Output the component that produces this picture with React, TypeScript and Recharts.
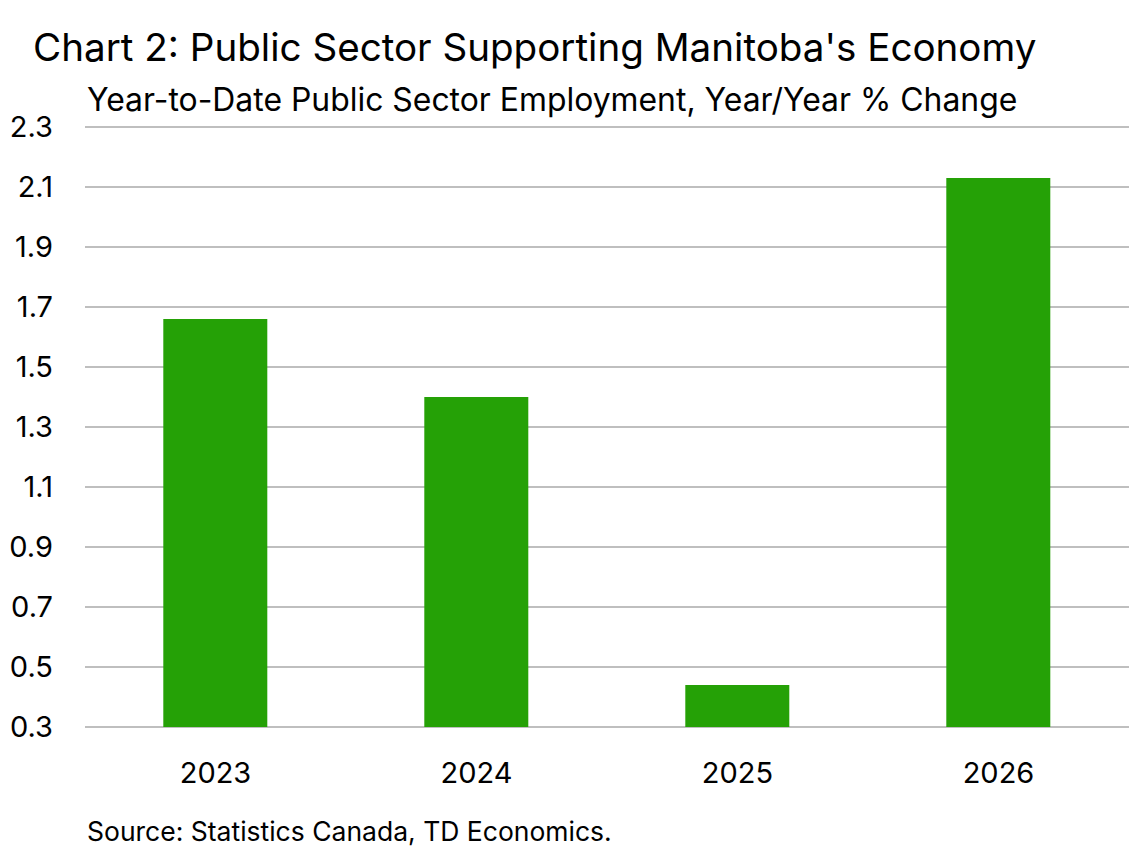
import React from "react";
import { BarChart, Bar, XAxis, YAxis, CartesianGrid } from "recharts";

const years = ["2023", "2024", "2025", "2026"];
const growth = [1.66, 1.4, 0.44, 2.13];
const yTicks = [0.3, 0.5, 0.7, 0.9, 1.1, 1.3, 1.5, 1.7, 1.9, 2.1, 2.3];

const data = years.map((year, i) => ({ year, value: growth[i] }));

const font = "Inter, 'Noto Sans', sans-serif";

export default function App() {
  return (
    <div
      style={{
        position: "absolute",
        left: 0,
        top: 0,
        width: 1142,
        height: 850,
        background: "#fff",
        fontFamily: font,
        color: "#000",
      }}
    >
      <div style={{ position: "absolute", left: 33, top: 28, fontSize: 38.6, lineHeight: 1, whiteSpace: "nowrap" }}>
        Chart 2: Public Sector Supporting Manitoba's Economy
      </div>
      <div style={{ position: "absolute", left: 87, top: 84, fontSize: 31.9, lineHeight: 1, whiteSpace: "nowrap" }}>
        Year-to-Date Public Sector Employment, Year/Year % Change
      </div>
      <BarChart
        width={1142}
        height={850}
        data={data}
        margin={{ top: 127, right: 13, bottom: 93, left: 0 }}
        barCategoryGap="30%"
      >
        <CartesianGrid vertical={false} stroke="#bfbfbf" strokeWidth={2} />
        <XAxis
          dataKey="year"
          axisLine={false}
          tickLine={false}
          tickSize={0}
          tickMargin={35}
          tick={{ fill: "#000", fontSize: 29, fontFamily: font }}
        />
        <YAxis
          type="number"
          domain={[0.3, 2.3]}
          ticks={yTicks}
          allowDataOverflow
          width={85}
          axisLine={false}
          tickLine={false}
          tickSize={0}
          tickMargin={32}
          tickFormatter={(v: number) => v.toFixed(1)}
          tick={{ fill: "#000", fontSize: 29, fontFamily: font }}
        />
        <Bar dataKey="value" fill="#25a106" isAnimationActive={false} />
      </BarChart>
      <div style={{ position: "absolute", left: 87, top: 818, fontSize: 26.5, lineHeight: 1, whiteSpace: "nowrap" }}>
        Source: Statistics Canada, TD Economics.
      </div>
    </div>
  );
}
